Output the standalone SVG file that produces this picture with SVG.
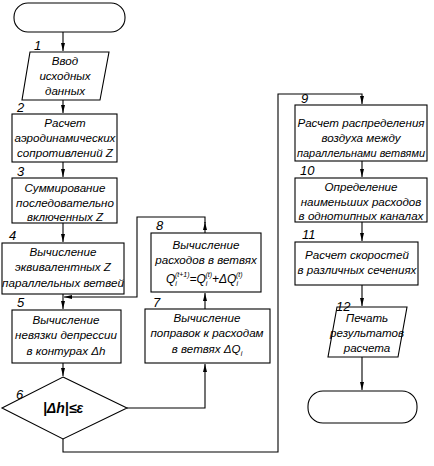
<svg xmlns="http://www.w3.org/2000/svg" width="434" height="466" viewBox="0 0 434 466">
<style>
.s{fill:#fff;stroke:#000;stroke-width:1.1}
.t{font-family:"Liberation Sans",Arial,sans-serif;font-style:italic;font-size:11.6px;fill:#000;text-anchor:middle}
.n{font-family:"Liberation Sans",Arial,sans-serif;font-style:italic;font-size:13px;fill:#000}
.c{fill:none;stroke:#000;stroke-width:1.1}
</style>
<defs>
<marker id="ah" viewBox="0 0 8 4" refX="8" refY="2" markerWidth="8" markerHeight="4" markerUnits="userSpaceOnUse" orient="auto">
<path d="M0,0 L8,2 L0,4 z" fill="#000"/>
</marker>
</defs>
<g id="connectors">
<path class="c" d="M63,32 V51" marker-end="url(#ah)"/>
<path class="c" d="M63,100 V113" marker-end="url(#ah)"/>
<path class="c" d="M63,162 V177" marker-end="url(#ah)"/>
<path class="c" d="M63,223 V242" marker-end="url(#ah)"/>
<path class="c" d="M63,294 V309" marker-end="url(#ah)"/>
<path class="c" d="M63,363 V376" marker-end="url(#ah)"/>
<path class="c" d="M127,408 H205 V364" marker-end="url(#ah)"/>
<path class="c" d="M205,309 V293" marker-end="url(#ah)"/>
<path class="c" d="M205,233 V222" marker-end="url(#ah)"/>
<path class="c" d="M205,223 V217 H137 V297 H64" marker-end="url(#ah)"/>
<path class="c" d="M63,439 V452 H278 V94 H362 V104" marker-end="url(#ah)"/>
<path class="c" d="M362,161 V177" marker-end="url(#ah)"/>
<path class="c" d="M362,222 V241" marker-end="url(#ah)"/>
<path class="c" d="M362,285 V306" marker-end="url(#ah)"/>
<path class="c" d="M362,357 V390" marker-end="url(#ah)"/>
</g>
<g id="start">
<rect class="s" x="14" y="3" width="111" height="29" rx="14" ry="14"/>
</g>
<g id="n1">
<polygon class="s" points="30,52 109,52 100,100 22,100"/>
<text class="n" x="34" y="50">1</text>
<text class="t" x="65" y="65">Ввод</text>
<text class="t" x="65" y="80">исходных</text>
<text class="t" x="65" y="95">данных</text>
</g>
<g id="n2">
<rect class="s" x="12" y="114" width="105" height="48"/>
<text class="n" x="17" y="112">2</text>
<text class="t" x="65" y="127">Расчет</text>
<text class="t" x="65" y="142">аэродинамических</text>
<text class="t" x="65" y="157">сопротивлений Z</text>
</g>
<g id="n3">
<rect class="s" x="12" y="178" width="105" height="45"/>
<text class="n" x="17" y="176">3</text>
<text class="t" x="65" y="192">Суммирование</text>
<text class="t" x="65" y="207">последовательно</text>
<text class="t" x="65" y="221">включенных Z</text>
</g>
<g id="n4">
<rect class="s" x="2" y="243" width="122" height="51"/>
<text class="n" x="9" y="240">4</text>
<text class="t" x="63" y="256">Вычисление</text>
<text class="t" x="63" y="271">эквивалентных Z</text>
<text class="t" x="63" y="287">параллельных ветвей</text>
</g>
<g id="n5">
<rect class="s" x="12" y="310" width="109" height="53"/>
<text class="n" x="17" y="307">5</text>
<text class="t" x="66" y="324">Вычисление</text>
<text class="t" x="66" y="339">невязки депрессии</text>
<text class="t" x="66" y="355">в контурах Δh</text>
</g>
<g id="n6">
<polygon class="s" points="63,377 127,408 63,439 2,408"/>
<text class="n" x="16" y="399">6</text>
<text class="t" x="63" y="413" style="font-weight:bold;font-size:14px">|Δh|≤ε</text>
</g>
<g id="n7">
<rect class="s" x="145" y="309" width="125" height="54"/>
<text class="n" x="153" y="307">7</text>
<text class="t" x="207" y="322">Вычисление</text>
<text class="t" x="207" y="337">поправок к расходам</text>
<text class="t" x="207" y="353">в ветвях ΔQ<tspan font-size="7" dy="3">i</tspan></text>
</g>
<g id="n8">
<rect class="s" x="151" y="233" width="110" height="59"/>
<text class="n" x="156" y="230">8</text>
<text class="t" x="206" y="249">Вычисление</text>
<text class="t" x="206" y="264">расходов в ветвях</text>
<text class="n" x="166" y="283" style="font-size:12px">Q<tspan font-size="7" dy="3">i</tspan><tspan font-size="7" dx="-2" dy="-9">(t+1)</tspan><tspan dy="6">=Q</tspan><tspan font-size="7" dy="3">i</tspan><tspan font-size="7" dx="-2" dy="-9">(t)</tspan><tspan dy="6">+ΔQ</tspan><tspan font-size="7" dy="3">i</tspan><tspan font-size="7" dx="-2" dy="-9">(t)</tspan></text>
</g>
<g id="n9">
<rect class="s" x="295" y="105" width="132" height="56"/>
<text class="n" x="301" y="103">9</text>
<text class="t" x="361" y="127">Расчет распределения</text>
<text class="t" x="361" y="142">воздуха между</text>
<text class="t" x="361" y="157" textLength="128" lengthAdjust="spacingAndGlyphs">параллельнами ветвями</text>
</g>
<g id="n10">
<rect class="s" x="295" y="178" width="132" height="44"/>
<text class="n" x="300" y="175">10</text>
<text class="t" x="361" y="191">Определение</text>
<text class="t" x="361" y="206">наименьших расходов</text>
<text class="t" x="361" y="220">в однотипных каналах</text>
</g>
<g id="n11">
<rect class="s" x="295" y="242" width="123" height="43"/>
<text class="n" x="302" y="239">11</text>
<text class="t" x="357" y="259">Расчет скоростей</text>
<text class="t" x="357" y="274">в различных сечениях</text>
</g>
<g id="n12">
<polygon class="s" points="337,307 407,307 398,357 328,357"/>
<text class="n" x="336" y="311">12</text>
<text class="t" x="367" y="322">Печать</text>
<text class="t" x="367" y="337">результатов</text>
<text class="t" x="367" y="352">расчета</text>
</g>
<g id="end">
<rect class="s" x="308" y="391" width="109" height="32" rx="15" ry="15"/>
</g>
</svg>
